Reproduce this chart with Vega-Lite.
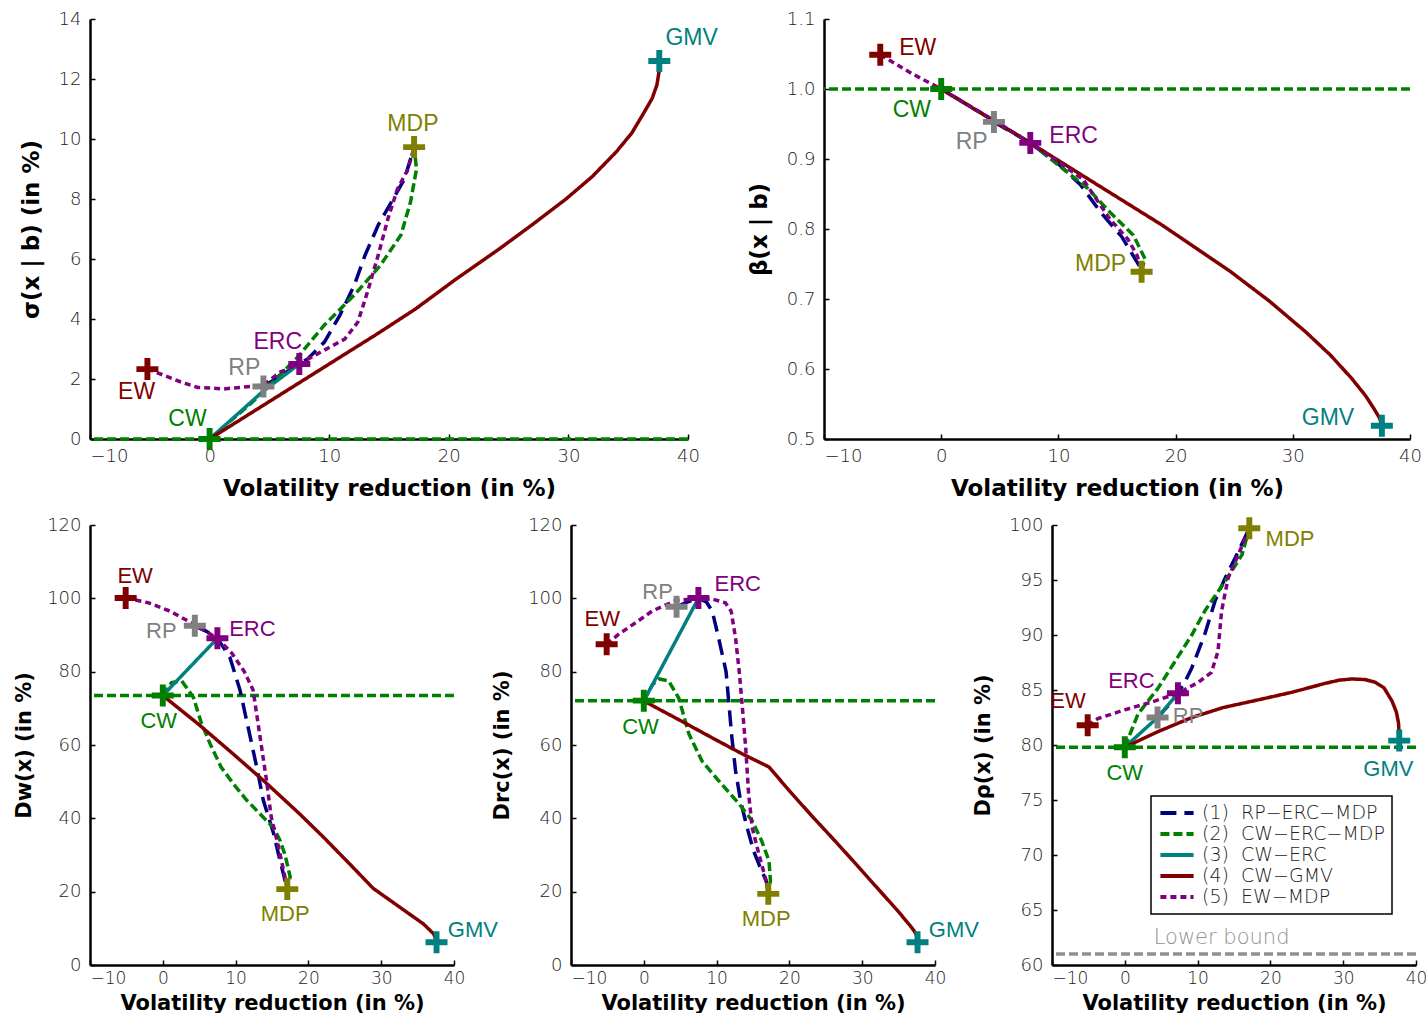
{
  "$schema": "https://vega.github.io/schema/vega-lite/v6.json",
  "background": "white",
  "padding": {"left": 13, "top": 10, "right": 0, "bottom": 0},
  "spacing": 16,
  "resolve": {"scale": {"stroke": "independent", "strokeDash": "independent", "fill": "independent"}},
  "datasets": {
    "p1_paths": [
      {"series":"RP-ERC-MDP","x":4.5,"y":1.75},{"series":"RP-ERC-MDP","x":7.5,"y":2.5},{"series":"RP-ERC-MDP","x":8.2,"y":2.67},{"series":"RP-ERC-MDP","x":9.6,"y":3.23},{"series":"RP-ERC-MDP","x":10.9,"y":4.13},{"series":"RP-ERC-MDP","x":12.1,"y":5.13},{"series":"RP-ERC-MDP","x":13,"y":6.13},{"series":"RP-ERC-MDP","x":14.1,"y":7.13},{"series":"RP-ERC-MDP","x":15.2,"y":7.9},{"series":"RP-ERC-MDP","x":16.3,"y":8.67},{"series":"RP-ERC-MDP","x":16.9,"y":9.47},{"series":"RP-ERC-MDP","x":17.1,"y":9.73},
      {"series":"CW-ERC-MDP","x":0,"y":0},{"series":"CW-ERC-MDP","x":3.5,"y":1.2},{"series":"CW-ERC-MDP","x":7.3,"y":2.7},{"series":"CW-ERC-MDP","x":9.6,"y":3.8},{"series":"CW-ERC-MDP","x":12.1,"y":4.8},{"series":"CW-ERC-MDP","x":14.3,"y":5.8},{"series":"CW-ERC-MDP","x":16,"y":6.8},{"series":"CW-ERC-MDP","x":16.8,"y":7.9},{"series":"CW-ERC-MDP","x":17.3,"y":9.0},{"series":"CW-ERC-MDP","x":17.1,"y":9.73},
      {"series":"CW-ERC","x":0,"y":0},{"series":"CW-ERC","x":4.5,"y":1.6},{"series":"CW-ERC","x":7.5,"y":2.5},
      {"series":"CW-GMV","x":0,"y":0},{"series":"CW-GMV","x":5,"y":1.25},{"series":"CW-GMV","x":10,"y":2.5},{"series":"CW-GMV","x":14,"y":3.5},{"series":"CW-GMV","x":17.2,"y":4.33},{"series":"CW-GMV","x":20.5,"y":5.3},{"series":"CW-GMV","x":24.2,"y":6.33},{"series":"CW-GMV","x":27,"y":7.15},{"series":"CW-GMV","x":29.8,"y":8.0},{"series":"CW-GMV","x":32,"y":8.75},{"series":"CW-GMV","x":34,"y":9.57},{"series":"CW-GMV","x":35.3,"y":10.2},{"series":"CW-GMV","x":36.2,"y":10.8},{"series":"CW-GMV","x":37,"y":11.35},{"series":"CW-GMV","x":37.4,"y":11.8},{"series":"CW-GMV","x":37.6,"y":12.3},{"series":"CW-GMV","x":37.6,"y":12.6},
      {"series":"EW-MDP","x":-5.2,"y":2.33},{"series":"EW-MDP","x":-4,"y":2.15},{"series":"EW-MDP","x":-2.4,"y":1.9},{"series":"EW-MDP","x":-1,"y":1.72},{"series":"EW-MDP","x":1.2,"y":1.67},{"series":"EW-MDP","x":3.4,"y":1.75},{"series":"EW-MDP","x":4.5,"y":1.8},{"series":"EW-MDP","x":5.9,"y":2.23},{"series":"EW-MDP","x":7.5,"y":2.5},{"series":"EW-MDP","x":9.3,"y":2.9},{"series":"EW-MDP","x":11.3,"y":3.33},{"series":"EW-MDP","x":12.4,"y":3.9},{"series":"EW-MDP","x":13.2,"y":4.9},{"series":"EW-MDP","x":14.1,"y":6.13},{"series":"EW-MDP","x":14.9,"y":7.33},{"series":"EW-MDP","x":15.7,"y":8.33},{"series":"EW-MDP","x":16.6,"y":9.0},{"series":"EW-MDP","x":17.1,"y":9.73}
    ],
    "p1_pts": [
      {"name":"EW","x":-5.2,"y":2.33,"lx":-6.1,"ly":1.57},
      {"name":"CW","x":0,"y":0,"lx":-1.85,"ly":0.67},
      {"name":"RP","x":4.5,"y":1.75,"lx":2.9,"ly":2.37},
      {"name":"ERC","x":7.5,"y":2.5,"lx":5.7,"ly":3.23},
      {"name":"MDP","x":17.1,"y":9.73,"lx":17.0,"ly":10.5},
      {"name":"GMV","x":37.6,"y":12.6,"lx":40.3,"ly":13.37}
    ],
    "p2_paths": [
      {"series":"RP-ERC-MDP","x":4.5,"y":0.953},{"series":"RP-ERC-MDP","x":7.6,"y":0.923},{"series":"RP-ERC-MDP","x":10,"y":0.893},{"series":"RP-ERC-MDP","x":11.9,"y":0.863},{"series":"RP-ERC-MDP","x":13.6,"y":0.824},{"series":"RP-ERC-MDP","x":15.4,"y":0.789},{"series":"RP-ERC-MDP","x":16.7,"y":0.753},{"series":"RP-ERC-MDP","x":17.1,"y":0.742},
      {"series":"CW-ERC-MDP","x":0,"y":1.0},{"series":"CW-ERC-MDP","x":4.5,"y":0.955},{"series":"CW-ERC-MDP","x":7.6,"y":0.923},{"series":"CW-ERC-MDP","x":10.4,"y":0.886},{"series":"CW-ERC-MDP","x":12.5,"y":0.858},{"series":"CW-ERC-MDP","x":14.4,"y":0.824},{"series":"CW-ERC-MDP","x":16.4,"y":0.791},{"series":"CW-ERC-MDP","x":17.4,"y":0.757},{"series":"CW-ERC-MDP","x":17.1,"y":0.742},
      {"series":"CW-ERC","x":0,"y":1.0},{"series":"CW-ERC","x":7.6,"y":0.923},
      {"series":"CW-GMV","x":0,"y":1.0},{"series":"CW-GMV","x":7.6,"y":0.923},{"series":"CW-GMV","x":12,"y":0.877},{"series":"CW-GMV","x":18.9,"y":0.805},{"series":"CW-GMV","x":24.7,"y":0.739},{"series":"CW-GMV","x":28,"y":0.697},{"series":"CW-GMV","x":31.1,"y":0.653},{"series":"CW-GMV","x":33.2,"y":0.62},{"series":"CW-GMV","x":35,"y":0.587},{"series":"CW-GMV","x":36.2,"y":0.562},{"series":"CW-GMV","x":36.9,"y":0.544},{"series":"CW-GMV","x":37.4,"y":0.53},{"series":"CW-GMV","x":37.6,"y":0.52},
      {"series":"EW-MDP","x":-5.2,"y":1.049},{"series":"EW-MDP","x":-2.5,"y":1.022},{"series":"EW-MDP","x":0,"y":1.0},{"series":"EW-MDP","x":4.5,"y":0.955},{"series":"EW-MDP","x":7.6,"y":0.923},{"series":"EW-MDP","x":10,"y":0.896},{"series":"EW-MDP","x":12.1,"y":0.871},{"series":"EW-MDP","x":14.4,"y":0.814},{"series":"EW-MDP","x":15.9,"y":0.786},{"series":"EW-MDP","x":16.7,"y":0.763},{"series":"EW-MDP","x":17.1,"y":0.742}
    ],
    "p2_pts": [
      {"name":"EW","x":-5.2,"y":1.049,"lx":-2.0,"ly":1.059},
      {"name":"CW","x":0,"y":1.0,"lx":-2.5,"ly":0.970},
      {"name":"RP","x":4.5,"y":0.953,"lx":2.6,"ly":0.924},
      {"name":"ERC","x":7.6,"y":0.923,"lx":11.3,"ly":0.933},
      {"name":"MDP","x":17.1,"y":0.739,"lx":13.6,"ly":0.75},
      {"name":"GMV","x":37.6,"y":0.519,"lx":33.0,"ly":0.53}
    ],
    "p3_paths": [
      {"series":"RP-ERC-MDP","x":4.4,"y":92.5},{"series":"RP-ERC-MDP","x":6,"y":91},{"series":"RP-ERC-MDP","x":7.5,"y":89.1},{"series":"RP-ERC-MDP","x":9.2,"y":84},{"series":"RP-ERC-MDP","x":10.6,"y":75},{"series":"RP-ERC-MDP","x":11.7,"y":65},{"series":"RP-ERC-MDP","x":12.9,"y":54},{"series":"RP-ERC-MDP","x":13.8,"y":45},{"series":"RP-ERC-MDP","x":15.2,"y":36},{"series":"RP-ERC-MDP","x":16.1,"y":28.5},{"series":"RP-ERC-MDP","x":16.8,"y":23},{"series":"RP-ERC-MDP","x":17.1,"y":21},
      {"series":"CW-ERC-MDP","x":0,"y":73.5},{"series":"CW-ERC-MDP","x":1.2,"y":77},{"series":"CW-ERC-MDP","x":2.6,"y":77.5},{"series":"CW-ERC-MDP","x":4.2,"y":73},{"series":"CW-ERC-MDP","x":5.3,"y":66},{"series":"CW-ERC-MDP","x":6.5,"y":60.3},{"series":"CW-ERC-MDP","x":8,"y":54},{"series":"CW-ERC-MDP","x":9.7,"y":49.4},{"series":"CW-ERC-MDP","x":11.5,"y":45},{"series":"CW-ERC-MDP","x":13.8,"y":40.3},{"series":"CW-ERC-MDP","x":15.2,"y":37.5},{"series":"CW-ERC-MDP","x":16.1,"y":34},{"series":"CW-ERC-MDP","x":16.8,"y":30},{"series":"CW-ERC-MDP","x":17.5,"y":24},{"series":"CW-ERC-MDP","x":17.2,"y":22},
      {"series":"CW-ERC","x":0,"y":73.5},{"series":"CW-ERC","x":7.5,"y":89.1},
      {"series":"CW-GMV","x":0,"y":73.5},{"series":"CW-GMV","x":5,"y":65.5},{"series":"CW-GMV","x":9.7,"y":57.5},{"series":"CW-GMV","x":14,"y":50},{"series":"CW-GMV","x":18.8,"y":41.2},{"series":"CW-GMV","x":22,"y":35},{"series":"CW-GMV","x":25.7,"y":27.5},{"series":"CW-GMV","x":28.9,"y":20.9},{"series":"CW-GMV","x":32.6,"y":15.7},{"series":"CW-GMV","x":35.8,"y":11.2},{"series":"CW-GMV","x":37.2,"y":8.5},{"series":"CW-GMV","x":37.6,"y":6.5},
      {"series":"EW-MDP","x":-5.1,"y":100.1},{"series":"EW-MDP","x":-2,"y":98.8},{"series":"EW-MDP","x":1,"y":96.5},{"series":"EW-MDP","x":4.4,"y":92.8},{"series":"EW-MDP","x":7.5,"y":89.1},{"series":"EW-MDP","x":9.5,"y":85},{"series":"EW-MDP","x":11.2,"y":80},{"series":"EW-MDP","x":12.4,"y":75},{"series":"EW-MDP","x":13.3,"y":63},{"series":"EW-MDP","x":14.2,"y":51},{"series":"EW-MDP","x":14.9,"y":40.3},{"series":"EW-MDP","x":15.8,"y":33},{"series":"EW-MDP","x":16.5,"y":26.6},{"series":"EW-MDP","x":17.1,"y":21}
    ],
    "p3_pts": [
      {"name":"EW","x":-5.1,"y":100.1,"lx":-3.8,"ly":106.2},
      {"name":"CW","x":0,"y":73.5,"lx":-0.55,"ly":66.5},
      {"name":"RP","x":4.4,"y":92.5,"lx":-0.2,"ly":91.2},
      {"name":"ERC","x":7.5,"y":89.1,"lx":12.3,"ly":91.6},
      {"name":"MDP","x":17.1,"y":20.7,"lx":16.8,"ly":13.9},
      {"name":"GMV","x":37.6,"y":6.2,"lx":42.6,"ly":9.5}
    ],
    "p4_paths": [
      {"series":"RP-ERC-MDP","x":4.5,"y":97.7},{"series":"RP-ERC-MDP","x":6,"y":99},{"series":"RP-ERC-MDP","x":7.5,"y":100},{"series":"RP-ERC-MDP","x":8.6,"y":99},{"series":"RP-ERC-MDP","x":9.4,"y":96.5},{"series":"RP-ERC-MDP","x":10.3,"y":89},{"series":"RP-ERC-MDP","x":11.3,"y":80},{"series":"RP-ERC-MDP","x":11.7,"y":71},{"series":"RP-ERC-MDP","x":12.1,"y":62},{"series":"RP-ERC-MDP","x":12.6,"y":53},{"series":"RP-ERC-MDP","x":13.3,"y":44.7},{"series":"RP-ERC-MDP","x":14.2,"y":37.4},{"series":"RP-ERC-MDP","x":15.1,"y":31},{"series":"RP-ERC-MDP","x":16.2,"y":25.6},{"series":"RP-ERC-MDP","x":16.8,"y":23},{"series":"RP-ERC-MDP","x":17.1,"y":20},
      {"series":"CW-ERC-MDP","x":0,"y":72},{"series":"CW-ERC-MDP","x":1.2,"y":76.5},{"series":"CW-ERC-MDP","x":2.1,"y":78},{"series":"CW-ERC-MDP","x":3.4,"y":77.5},{"series":"CW-ERC-MDP","x":4.8,"y":72.8},{"series":"CW-ERC-MDP","x":6.2,"y":63},{"series":"CW-ERC-MDP","x":8,"y":55.6},{"series":"CW-ERC-MDP","x":10.3,"y":50.2},{"series":"CW-ERC-MDP","x":13.1,"y":43.9},{"series":"CW-ERC-MDP","x":14.9,"y":39.3},{"series":"CW-ERC-MDP","x":16.2,"y":33.8},{"series":"CW-ERC-MDP","x":17.2,"y":28.4},{"series":"CW-ERC-MDP","x":17.4,"y":22.9},{"series":"CW-ERC-MDP","x":17.1,"y":20},
      {"series":"CW-ERC","x":0,"y":72},{"series":"CW-ERC","x":7.5,"y":100},
      {"series":"CW-GMV","x":0,"y":72},{"series":"CW-GMV","x":5,"y":66.7},{"series":"CW-GMV","x":10,"y":61.3},{"series":"CW-GMV","x":13.5,"y":57.6},{"series":"CW-GMV","x":17.2,"y":54},{"series":"CW-GMV","x":20,"y":47.5},{"series":"CW-GMV","x":23.2,"y":40.4},{"series":"CW-GMV","x":26,"y":34.4},{"series":"CW-GMV","x":28.7,"y":28.5},{"series":"CW-GMV","x":32.3,"y":20.5},{"series":"CW-GMV","x":35,"y":14.5},{"series":"CW-GMV","x":36.8,"y":10.2},{"series":"CW-GMV","x":37.4,"y":8.5},{"series":"CW-GMV","x":37.6,"y":6.5},
      {"series":"EW-MDP","x":-5.1,"y":87.5},{"series":"EW-MDP","x":-3.4,"y":90.3},{"series":"EW-MDP","x":-1,"y":93.5},{"series":"EW-MDP","x":1.2,"y":96.6},{"series":"EW-MDP","x":4.4,"y":99.4},{"series":"EW-MDP","x":7.5,"y":100},{"series":"EW-MDP","x":9.4,"y":99.8},{"series":"EW-MDP","x":11.2,"y":98.8},{"series":"EW-MDP","x":12,"y":96.5},{"series":"EW-MDP","x":12.6,"y":89.2},{"series":"EW-MDP","x":13.1,"y":80.2},{"series":"EW-MDP","x":13.5,"y":71.2},{"series":"EW-MDP","x":14,"y":59.2},{"series":"EW-MDP","x":14.4,"y":46.6},{"series":"EW-MDP","x":14.9,"y":37.4},{"series":"EW-MDP","x":15.8,"y":30.3},{"series":"EW-MDP","x":16.8,"y":23},{"series":"EW-MDP","x":17.1,"y":20}
    ],
    "p4_pts": [
      {"name":"EW","x":-5.1,"y":87.5,"lx":-5.7,"ly":94.4},
      {"name":"CW","x":0,"y":72.1,"lx":-0.45,"ly":64.8},
      {"name":"RP","x":4.5,"y":97.7,"lx":1.9,"ly":101.6},
      {"name":"ERC","x":7.5,"y":100.1,"lx":12.9,"ly":103.9},
      {"name":"MDP","x":17.1,"y":19.4,"lx":16.8,"ly":12.5},
      {"name":"GMV","x":37.6,"y":6.2,"lx":42.6,"ly":9.5}
    ],
    "p5_paths": [
      {"series":"RP-ERC-MDP","x":4.5,"y":82.5},{"series":"RP-ERC-MDP","x":6,"y":83.6},{"series":"RP-ERC-MDP","x":7.3,"y":84.7},{"series":"RP-ERC-MDP","x":8.3,"y":85.8},{"series":"RP-ERC-MDP","x":9.2,"y":87},{"series":"RP-ERC-MDP","x":11,"y":90.1},{"series":"RP-ERC-MDP","x":12.4,"y":93.1},{"series":"RP-ERC-MDP","x":13.8,"y":95.2},{"series":"RP-ERC-MDP","x":15.6,"y":97.6},{"series":"RP-ERC-MDP","x":17.1,"y":99.7},
      {"series":"CW-ERC-MDP","x":0,"y":79.8},{"series":"CW-ERC-MDP","x":1.8,"y":82.8},{"series":"CW-ERC-MDP","x":4.6,"y":85.2},{"series":"CW-ERC-MDP","x":6.9,"y":87.6},{"series":"CW-ERC-MDP","x":9.2,"y":90},{"series":"CW-ERC-MDP","x":11,"y":92.2},{"series":"CW-ERC-MDP","x":13.8,"y":94.9},{"series":"CW-ERC-MDP","x":16.1,"y":97.3},{"series":"CW-ERC-MDP","x":17.1,"y":99.7},
      {"series":"CW-ERC","x":0,"y":79.8},{"series":"CW-ERC","x":4.5,"y":82.5},{"series":"CW-ERC","x":7.3,"y":84.7},
      {"series":"CW-GMV","x":0,"y":79.8},{"series":"CW-GMV","x":4.5,"y":81.2},{"series":"CW-GMV","x":9.2,"y":82.5},{"series":"CW-GMV","x":13.5,"y":83.4},{"series":"CW-GMV","x":18.3,"y":84.1},{"series":"CW-GMV","x":23,"y":84.8},{"series":"CW-GMV","x":27.5,"y":85.6},{"series":"CW-GMV","x":29.5,"y":85.9},{"series":"CW-GMV","x":31.2,"y":86.0},{"series":"CW-GMV","x":33,"y":85.95},{"series":"CW-GMV","x":34.4,"y":85.7},{"series":"CW-GMV","x":35.6,"y":85.2},{"series":"CW-GMV","x":36.7,"y":84.0},{"series":"CW-GMV","x":37.3,"y":83},{"series":"CW-GMV","x":37.6,"y":82},{"series":"CW-GMV","x":37.7,"y":80.6},
      {"series":"EW-MDP","x":-5.1,"y":81.8},{"series":"EW-MDP","x":-3.7,"y":82.4},{"series":"EW-MDP","x":0,"y":83.2},{"series":"EW-MDP","x":3.7,"y":83.9},{"series":"EW-MDP","x":7.3,"y":84.7},{"series":"EW-MDP","x":10.1,"y":85.7},{"series":"EW-MDP","x":11.9,"y":86.6},{"series":"EW-MDP","x":12.8,"y":88.5},{"series":"EW-MDP","x":13.3,"y":92.2},{"series":"EW-MDP","x":14.2,"y":95.2},{"series":"EW-MDP","x":15.6,"y":97.3},{"series":"EW-MDP","x":17.1,"y":99.7}
    ],
    "p5_pts": [
      {"name":"EW","x":-5.1,"y":81.8,"lx":-7.8,"ly":84.0},
      {"name":"CW","x":0,"y":79.8,"lx":0,"ly":77.5},
      {"name":"RP","x":4.5,"y":82.5,"lx":8.7,"ly":82.6},
      {"name":"ERC","x":7.3,"y":84.7,"lx":0.9,"ly":85.8},
      {"name":"MDP","x":17.1,"y":99.7,"lx":22.7,"ly":98.7},
      {"name":"GMV","x":37.7,"y":80.4,"lx":36.2,"ly":77.8}
    ],
    "p5_lb": [
      {"label":"Lower bound","y":61.0,"lx":13.3,"ly":62.5}
    ]
  },
  "vconcat": [
    {
      "hconcat": [
        {
          "width": 598, "height": 420,
          "layer": [
            {"data":{"name":"p1_pts"},"transform":[{"filter":"datum.name === 'CW'"}],
             "mark":{"type":"rule","color":"#008000","strokeWidth":3.5,"strokeDash":[9,4]},
             "encoding":{"y":{"field":"y","type":"quantitative","title":"σ(x | b) (in %)","scale":{"domain":[0,14],"nice":false},"axis":{"values":[0,2,4,6,8,10,12,14],"titleFontSize":23}}}},
            {"data":{"name":"p1_paths"},"mark":{"type":"line","strokeWidth":3.5},
             "encoding":{
               "x":{"field":"x","type":"quantitative","title":"Volatility reduction (in %)","scale":{"domain":[-10,40],"nice":false},"axis":{"values":[-10,0,10,20,30,40],"labelFontSize":18,"labelPadding":13,"titleFontSize":23,"titlePadding":12,"labelAlign":{"condition":{"test":"datum.value == -10","value":"left"},"value":"center"}}},
               "y":{"field":"y","type":"quantitative","title":"σ(x | b) (in %)"},
               "stroke":{"field":"series","type":"nominal","scale":{"domain":["RP-ERC-MDP","CW-ERC-MDP","CW-ERC","CW-GMV","EW-MDP"],"range":["#000080","#008000","#008080","#800000","#800080"]},"legend":null},
               "strokeDash":{"field":"series","type":"nominal","scale":{"domain":["RP-ERC-MDP","CW-ERC-MDP","CW-ERC","CW-GMV","EW-MDP"],"range":[[16,8],[9,4],[1,0],[1,0],[6,4]]},"legend":null},
               "order":{"value":null}}},
            {"data":{"name":"p1_pts"},"mark":{"type":"point","shape":"M-1,-0.27H-0.27V-1H0.27V-0.27H1V0.27H0.27V1H-0.27V0.27H-1Z","filled":true,"size":484,"opacity":1},
             "encoding":{
               "x":{"field":"x","type":"quantitative","title":"Volatility reduction (in %)"},
               "y":{"field":"y","type":"quantitative","title":"σ(x | b) (in %)"},
               "fill":{"field":"name","type":"nominal","scale":{"domain":["EW","CW","RP","ERC","MDP","GMV"],"range":["#800000","#008000","#808080","#800080","#808000","#008080"]},"legend":null}}},
            {"data":{"name":"p1_pts"},"mark":{"type":"text","font":"Liberation Sans","fontSize":23},
             "encoding":{
               "x":{"field":"lx","type":"quantitative","title":"Volatility reduction (in %)"},
               "y":{"field":"ly","type":"quantitative","title":"σ(x | b) (in %)"},
               "text":{"field":"name"},
               "fill":{"field":"name","type":"nominal","scale":{"domain":["EW","CW","RP","ERC","MDP","GMV"],"range":["#800000","#008000","#808080","#800080","#808000","#008080"]},"legend":null}}}
          ]
        },
        {
          "width": 586, "height": 420,
          "layer": [
            {"data":{"name":"p2_pts"},"transform":[{"filter":"datum.name === 'CW'"}],
             "mark":{"type":"rule","color":"#008000","strokeWidth":3.5,"strokeDash":[9,4]},
             "encoding":{"y":{"field":"y","type":"quantitative","title":"β(x | b)","scale":{"domain":[0.5,1.1],"nice":false},"axis":{"values":[0.5,0.6,0.7,0.8,0.9,1.0,1.1],"format":".1f","titleFontSize":23}}}},
            {"data":{"name":"p2_paths"},"mark":{"type":"line","strokeWidth":3.5},
             "encoding":{
               "x":{"field":"x","type":"quantitative","title":"Volatility reduction (in %)","scale":{"domain":[-10,40],"nice":false},"axis":{"values":[-10,0,10,20,30,40],"labelFontSize":18,"labelPadding":13,"titleFontSize":23,"titlePadding":12,"labelAlign":{"condition":{"test":"datum.value == -10","value":"left"},"value":"center"}}},
               "y":{"field":"y","type":"quantitative","title":"β(x | b)"},
               "stroke":{"field":"series","type":"nominal","scale":{"domain":["RP-ERC-MDP","CW-ERC-MDP","CW-ERC","CW-GMV","EW-MDP"],"range":["#000080","#008000","#008080","#800000","#800080"]},"legend":null},
               "strokeDash":{"field":"series","type":"nominal","scale":{"domain":["RP-ERC-MDP","CW-ERC-MDP","CW-ERC","CW-GMV","EW-MDP"],"range":[[16,8],[9,4],[1,0],[1,0],[6,4]]},"legend":null},
               "order":{"value":null}}},
            {"data":{"name":"p2_pts"},"mark":{"type":"point","shape":"M-1,-0.27H-0.27V-1H0.27V-0.27H1V0.27H0.27V1H-0.27V0.27H-1Z","filled":true,"size":484,"opacity":1},
             "encoding":{
               "x":{"field":"x","type":"quantitative","title":"Volatility reduction (in %)"},
               "y":{"field":"y","type":"quantitative","title":"β(x | b)"},
               "fill":{"field":"name","type":"nominal","scale":{"domain":["EW","CW","RP","ERC","MDP","GMV"],"range":["#800000","#008000","#808080","#800080","#808000","#008080"]},"legend":null}}},
            {"data":{"name":"p2_pts"},"mark":{"type":"text","font":"Liberation Sans","fontSize":23},
             "encoding":{
               "x":{"field":"lx","type":"quantitative","title":"Volatility reduction (in %)"},
               "y":{"field":"ly","type":"quantitative","title":"β(x | b)"},
               "text":{"field":"name"},
               "fill":{"field":"name","type":"nominal","scale":{"domain":["EW","CW","RP","ERC","MDP","GMV"],"range":["#800000","#008000","#808080","#800080","#808000","#008080"]},"legend":null}}}
          ]
        }
      ],
      "spacing": 136,
      "bounds": "flush",
      "resolve": {"scale": {"stroke": "independent", "strokeDash": "independent", "fill": "independent"}}
    },
    {
      "hconcat": [
        {
          "width": 364, "height": 440,
          "layer": [
            {"data":{"name":"p3_pts"},"transform":[{"filter":"datum.name === 'CW'"}],
             "mark":{"type":"rule","color":"#008000","strokeWidth":3.5,"strokeDash":[9,4]},
             "encoding":{"y":{"field":"y","type":"quantitative","title":"Dw(x) (in %)","scale":{"domain":[0,120],"nice":false},"axis":{"values":[0,20,40,60,80,100,120],"titlePadding":12}}}},
            {"data":{"name":"p3_paths"},"mark":{"type":"line","strokeWidth":3.5},
             "encoding":{
               "x":{"field":"x","type":"quantitative","title":"Volatility reduction (in %)","scale":{"domain":[-10,40],"nice":false},"axis":{"values":[-10,0,10,20,30,40],"titleFontSize":21,"titlePadding":6,"labelAlign":{"condition":{"test":"datum.value == -10","value":"left"},"value":"center"}}},
               "y":{"field":"y","type":"quantitative","title":"Dw(x) (in %)"},
               "stroke":{"field":"series","type":"nominal","scale":{"domain":["RP-ERC-MDP","CW-ERC-MDP","CW-ERC","CW-GMV","EW-MDP"],"range":["#000080","#008000","#008080","#800000","#800080"]},"legend":null},
               "strokeDash":{"field":"series","type":"nominal","scale":{"domain":["RP-ERC-MDP","CW-ERC-MDP","CW-ERC","CW-GMV","EW-MDP"],"range":[[16,8],[9,4],[1,0],[1,0],[6,4]]},"legend":null},
               "order":{"value":null}}},
            {"data":{"name":"p3_pts"},"mark":{"type":"point","shape":"M-1,-0.27H-0.27V-1H0.27V-0.27H1V0.27H0.27V1H-0.27V0.27H-1Z","filled":true,"size":484,"opacity":1},
             "encoding":{
               "x":{"field":"x","type":"quantitative","title":"Volatility reduction (in %)"},
               "y":{"field":"y","type":"quantitative","title":"Dw(x) (in %)"},
               "fill":{"field":"name","type":"nominal","scale":{"domain":["EW","CW","RP","ERC","MDP","GMV"],"range":["#800000","#008000","#808080","#800080","#808000","#008080"]},"legend":null}}},
            {"data":{"name":"p3_pts"},"mark":{"type":"text","font":"Liberation Sans","fontSize":22},
             "encoding":{
               "x":{"field":"lx","type":"quantitative","title":"Volatility reduction (in %)"},
               "y":{"field":"ly","type":"quantitative","title":"Dw(x) (in %)"},
               "text":{"field":"name"},
               "fill":{"field":"name","type":"nominal","scale":{"domain":["EW","CW","RP","ERC","MDP","GMV"],"range":["#800000","#008000","#808080","#800080","#808000","#008080"]},"legend":null}}}
          ]
        },
        {
          "width": 364, "height": 440,
          "layer": [
            {"data":{"name":"p4_pts"},"transform":[{"filter":"datum.name === 'CW'"}],
             "mark":{"type":"rule","color":"#008000","strokeWidth":3.5,"strokeDash":[9,4]},
             "encoding":{"y":{"field":"y","type":"quantitative","title":"Drc(x) (in %)","scale":{"domain":[0,120],"nice":false},"axis":{"values":[0,20,40,60,80,100,120]}}}},
            {"data":{"name":"p4_paths"},"mark":{"type":"line","strokeWidth":3.5},
             "encoding":{
               "x":{"field":"x","type":"quantitative","title":"Volatility reduction (in %)","scale":{"domain":[-10,40],"nice":false},"axis":{"values":[-10,0,10,20,30,40],"titleFontSize":21,"titlePadding":6,"labelAlign":{"condition":{"test":"datum.value == -10","value":"left"},"value":"center"}}},
               "y":{"field":"y","type":"quantitative","title":"Drc(x) (in %)"},
               "stroke":{"field":"series","type":"nominal","scale":{"domain":["RP-ERC-MDP","CW-ERC-MDP","CW-ERC","CW-GMV","EW-MDP"],"range":["#000080","#008000","#008080","#800000","#800080"]},"legend":null},
               "strokeDash":{"field":"series","type":"nominal","scale":{"domain":["RP-ERC-MDP","CW-ERC-MDP","CW-ERC","CW-GMV","EW-MDP"],"range":[[16,8],[9,4],[1,0],[1,0],[6,4]]},"legend":null},
               "order":{"value":null}}},
            {"data":{"name":"p4_pts"},"mark":{"type":"point","shape":"M-1,-0.27H-0.27V-1H0.27V-0.27H1V0.27H0.27V1H-0.27V0.27H-1Z","filled":true,"size":484,"opacity":1},
             "encoding":{
               "x":{"field":"x","type":"quantitative","title":"Volatility reduction (in %)"},
               "y":{"field":"y","type":"quantitative","title":"Drc(x) (in %)"},
               "fill":{"field":"name","type":"nominal","scale":{"domain":["EW","CW","RP","ERC","MDP","GMV"],"range":["#800000","#008000","#808080","#800080","#808000","#008080"]},"legend":null}}},
            {"data":{"name":"p4_pts"},"mark":{"type":"text","font":"Liberation Sans","fontSize":22},
             "encoding":{
               "x":{"field":"lx","type":"quantitative","title":"Volatility reduction (in %)"},
               "y":{"field":"ly","type":"quantitative","title":"Drc(x) (in %)"},
               "text":{"field":"name"},
               "fill":{"field":"name","type":"nominal","scale":{"domain":["EW","CW","RP","ERC","MDP","GMV"],"range":["#800000","#008000","#808080","#800080","#808000","#008080"]},"legend":null}}}
          ]
        },
        {
          "width": 364, "height": 440,
          "layer": [
            {"data":{"name":"p5_pts"},"transform":[{"filter":"datum.name === 'CW'"}],
             "mark":{"type":"rule","color":"#008000","strokeWidth":3.5,"strokeDash":[9,4]},
             "encoding":{"y":{"field":"y","type":"quantitative","title":"Dρ(x) (in %)","scale":{"domain":[60,100],"nice":false},"axis":{"values":[60,65,70,75,80,85,90,95,100]}}}},
            {"data":{"name":"p5_lb"},
             "mark":{"type":"rule","color":"#909090","strokeWidth":3.5,"strokeDash":[9,4]},
             "encoding":{"y":{"field":"y","type":"quantitative","title":"Dρ(x) (in %)"}}},
            {"data":{"name":"p5_lb"},
             "mark":{"type":"text","font":"DejaVu Sans","fontSize":21,"fontWeight":300,"color":"#909090"},
             "encoding":{"x":{"field":"lx","type":"quantitative","title":"Volatility reduction (in %)"},"y":{"field":"ly","type":"quantitative","title":"Dρ(x) (in %)"},"text":{"field":"label"}}},
            {"data":{"name":"p5_paths"},"mark":{"type":"line","strokeWidth":3.5},
             "encoding":{
               "x":{"field":"x","type":"quantitative","title":"Volatility reduction (in %)","scale":{"domain":[-10,40],"nice":false},"axis":{"values":[-10,0,10,20,30,40],"titleFontSize":21,"titlePadding":6,"labelAlign":{"condition":{"test":"datum.value == -10","value":"left"},"value":"center"}}},
               "y":{"field":"y","type":"quantitative","title":"Dρ(x) (in %)"},
               "stroke":{"field":"series","type":"nominal","scale":{"domain":["RP-ERC-MDP","CW-ERC-MDP","CW-ERC","CW-GMV","EW-MDP"],"range":["#000080","#008000","#008080","#800000","#800080"]},
                 "legend":{"orient":"none","legendX":99,"legendY":271,"title":null,"labelExpr":"datum.label == 'RP-ERC-MDP' ? '(1)\u00a0\u00a0RP\u2212ERC\u2212MDP' : datum.label == 'CW-ERC-MDP' ? '(2)\u00a0\u00a0CW\u2212ERC\u2212MDP' : datum.label == 'CW-ERC' ? '(3)\u00a0\u00a0CW\u2212ERC' : datum.label == 'CW-GMV' ? '(4)\u00a0\u00a0CW\u2212GMV' : '(5)\u00a0\u00a0EW\u2212MDP'"}},
               "strokeDash":{"field":"series","type":"nominal","scale":{"domain":["RP-ERC-MDP","CW-ERC-MDP","CW-ERC","CW-GMV","EW-MDP"],"range":[[16,8],[9,4],[1,0],[1,0],[6,4]]},
                 "legend":{"orient":"none","legendX":99,"legendY":271,"title":null,"labelExpr":"datum.label == 'RP-ERC-MDP' ? '(1)\u00a0\u00a0RP\u2212ERC\u2212MDP' : datum.label == 'CW-ERC-MDP' ? '(2)\u00a0\u00a0CW\u2212ERC\u2212MDP' : datum.label == 'CW-ERC' ? '(3)\u00a0\u00a0CW\u2212ERC' : datum.label == 'CW-GMV' ? '(4)\u00a0\u00a0CW\u2212GMV' : '(5)\u00a0\u00a0EW\u2212MDP'"}},
               "order":{"value":null}}},
            {"data":{"name":"p5_pts"},"mark":{"type":"point","shape":"M-1,-0.27H-0.27V-1H0.27V-0.27H1V0.27H0.27V1H-0.27V0.27H-1Z","filled":true,"size":484,"opacity":1},
             "encoding":{
               "x":{"field":"x","type":"quantitative","title":"Volatility reduction (in %)"},
               "y":{"field":"y","type":"quantitative","title":"Dρ(x) (in %)"},
               "fill":{"field":"name","type":"nominal","scale":{"domain":["EW","CW","RP","ERC","MDP","GMV"],"range":["#800000","#008000","#808080","#800080","#808000","#008080"]},"legend":null}}},
            {"data":{"name":"p5_pts"},"mark":{"type":"text","font":"Liberation Sans","fontSize":22},
             "encoding":{
               "x":{"field":"lx","type":"quantitative","title":"Volatility reduction (in %)"},
               "y":{"field":"ly","type":"quantitative","title":"Dρ(x) (in %)"},
               "text":{"field":"name"},
               "fill":{"field":"name","type":"nominal","scale":{"domain":["EW","CW","RP","ERC","MDP","GMV"],"range":["#800000","#008000","#808080","#800080","#808000","#008080"]},"legend":null}}}
          ]
        }
      ],
      "spacing": 117,
      "bounds": "flush",
      "resolve": {"scale": {"stroke": "independent", "strokeDash": "independent", "fill": "independent"}}
    }
  ],
  "config": {
    "view": {"stroke": null},
    "axis": {
      "grid": false,
      "domainColor": "black",
      "domainWidth": 2.5,
      "tickColor": "black",
      "tickWidth": 1.5,
      "tickSize": -5,
      "labelFont": "DejaVu Sans",
      "labelFontWeight": 300,
      "labelFontSize": 18,
      "labelColor": "#222222",
      "labelPadding": 14,
      "titleFont": "DejaVu Sans",
      "titleFontWeight": "bold",
      "titleFontSize": 21,
      "titleColor": "black"
    },
    "axisY": {"titlePadding": 15},
    "axisX": {"titlePadding": 8, "labelFlush": false, "labelPadding": 10, "labelFontSize": 17},
    "legend": {
      "strokeColor": "black",
      "strokeWidth": 1.5,
      "fillColor": "white",
      "padding": 7,
      "labelFont": "DejaVu Sans",
      "labelFontSize": 19,
      "labelFontWeight": 300,
      "labelColor": "#222222",
      "labelLimit": 400,
      "symbolType": "stroke",
      "symbolSize": 1100,
      "symbolStrokeWidth": 4,
      "clipHeight": 20,
      "rowPadding": 1,
      "labelOffset": 6,
      "cornerRadius": 0
    }
  }
}
